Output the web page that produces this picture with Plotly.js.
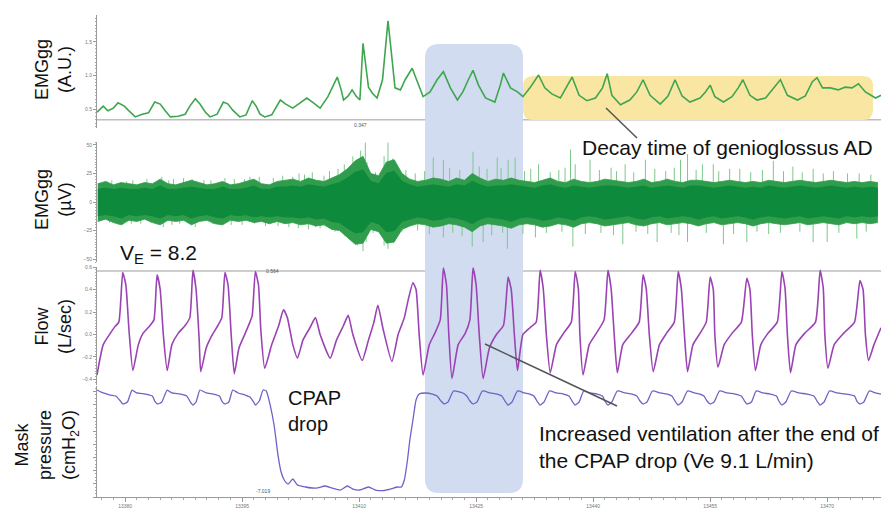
<!DOCTYPE html>
<html><head><meta charset="utf-8">
<script src="https://cdn.plot.ly/plotly-3.0.1.min.js"></script>
<style>html,body{margin:0;padding:0;background:#fff}</style>
</head><body>
<div id="chart" style="width:881px;height:512px"></div>
<script>
// ---------- DATA ----------
// Panel 1: EMGgg moving-time average (A.U.)
const emgAUTime = [13376.4,13377.2,13377.8,13378.5,13379.1,13379.9,13380.4,13381.3,13382.2,13383.0,13383.8,13384.5,13385.1,13385.8,13386.8,13387.7,13388.3,13389.0,13389.6,13390.3,13390.9,13391.8,13392.6,13393.2,13393.8,13394.7,13395.5,13396.3,13396.8,13397.3,13397.9,13398.8,13399.9,13400.6,13401.5,13402.4,13403.3,13404.1,13405.0,13406.0,13406.7,13407.2,13407.7,13408.0,13408.6,13409.1,13409.6,13410.1,13410.5,13410.9,13411.2,13411.7,13412.3,13413.0,13413.5,13413.7,13414.1,13414.6,13415.3,13415.9,13416.8,13417.4,13418.2,13419.1,13420.0,13420.8,13421.7,13422.6,13423.3,13424.0,13424.6,13425.3,13426.2,13427.4,13428.1,13428.5,13429.4,13430.3,13431.0,13431.9,13433.0,13433.8,13434.7,13435.8,13436.5,13437.3,13438.2,13439.2,13440.3,13441.2,13441.8,13442.4,13443.5,13444.7,13445.6,13446.4,13447.3,13448.6,13449.6,13450.5,13451.4,13452.4,13453.7,13454.4,13455.0,13455.6,13456.7,13457.8,13458.6,13459.2,13460.1,13461.0,13462.1,13463.0,13464.0,13464.9,13466.2,13467.2,13468.1,13468.7,13469.4,13470.4,13471.4,13472.3,13473.2,13474.0,13474.9,13476.2,13476.9];
const emgAUValue = [0.46,0.55,0.48,0.52,0.60,0.55,0.49,0.39,0.43,0.45,0.61,0.58,0.49,0.39,0.40,0.43,0.55,0.66,0.58,0.46,0.39,0.43,0.61,0.58,0.49,0.39,0.42,0.63,0.55,0.43,0.39,0.42,0.64,0.58,0.52,0.60,0.67,0.60,0.52,0.69,0.86,0.98,0.79,0.64,0.70,0.79,0.70,0.64,1.48,1.08,0.83,0.74,0.67,0.94,1.53,1.81,1.38,0.82,0.79,0.94,1.11,0.94,0.69,0.76,0.94,1.06,0.82,0.64,0.76,0.94,1.08,0.86,0.67,0.61,0.86,1.04,0.82,0.76,0.69,0.82,1.01,0.82,0.73,0.67,0.82,0.98,0.71,0.63,0.67,0.82,1.03,0.71,0.57,0.64,0.76,0.94,0.71,0.58,0.70,0.94,0.70,0.61,0.67,0.76,0.86,0.69,0.61,0.69,0.82,0.94,0.71,0.64,0.67,0.79,0.94,0.71,0.64,0.70,0.91,0.97,0.82,0.82,0.79,0.83,0.82,0.88,0.76,0.67,0.71];
const emgAUBaseline = 0.347;

// Panel 2: raw EMGgg (µV) — dense core, lighter fringe, isolated spikes
const rawTime = [13376.5,13377.5,13378.5,13379.5,13380.5,13381.5,13382.5,13383.5,13384.5,13385.5,13386.5,13387.5,13388.5,13389.5,13390.5,13391.5,13392.5,13393.5,13394.5,13395.5,13396.5,13397.5,13398.5,13399.5,13400.5,13401.5,13402.5,13403.5,13404.5,13405.5,13406.5,13407.5,13408.5,13409.5,13410.5,13411.5,13412.5,13413.5,13414.5,13415.5,13416.5,13417.5,13418.5,13419.5,13420.5,13421.5,13422.5,13423.5,13424.5,13425.5,13426.5,13427.5,13428.5,13429.5,13430.5,13431.5,13432.5,13433.5,13434.5,13435.5,13436.5,13437.5,13438.5,13439.5,13440.5,13441.5,13442.5,13443.5,13444.5,13445.5,13446.5,13447.5,13448.5,13449.5,13450.5,13451.5,13452.5,13453.5,13454.5,13455.5,13456.5,13457.5,13458.5,13459.5,13460.5,13461.5,13462.5,13463.5,13464.5,13465.5,13466.5,13467.5,13468.5,13469.5,13470.5,13471.5,13472.5,13473.5,13474.5,13475.5,13476.5];
const rawUpper = [11,12,11,12,11,11,12,11,14,11,11,12,13,12,11,11,13,11,11,12,14,11,11,13,13,14,13,15,14,13,15,17,21,26,28,18,16,25,27,18,15,13,14,15,14,13,15,14,18,15,13,14,14,15,14,13,12,14,15,13,12,14,13,12,13,14,14,13,12,13,14,12,13,14,13,12,14,14,13,12,13,14,13,12,13,12,14,13,12,13,14,13,12,13,14,13,12,13,12,13,12];
const rawLower = [-12,-11,-12,-14,-11,-12,-11,-12,-14,-11,-12,-11,-14,-12,-11,-13,-14,-11,-12,-11,-13,-12,-13,-12,-13,-13,-14,-13,-15,-14,-17,-18,-23,-27,-26,-17,-19,-26,-25,-17,-15,-13,-14,-16,-15,-13,-14,-16,-19,-15,-13,-14,-15,-17,-14,-13,-14,-16,-15,-13,-14,-16,-13,-12,-13,-15,-14,-13,-12,-14,-15,-13,-12,-14,-13,-12,-13,-15,-13,-12,-14,-13,-12,-13,-15,-13,-12,-13,-14,-13,-12,-14,-13,-12,-13,-14,-12,-13,-12,-13,-12];
const rawFringeUpper = [16,18,15,17,16,15,17,16,20,16,15,17,19,17,15,16,18,15,16,18,20,16,15,18,19,20,18,21,19,18,21,24,29,36,40,25,23,35,37,25,20,18,19,21,20,18,21,19,25,21,18,20,19,21,19,18,17,19,21,18,17,20,18,17,18,20,19,18,17,18,20,17,18,20,18,17,19,19,18,17,18,19,18,17,18,17,19,18,17,18,19,18,17,18,19,18,17,18,17,18,17];
const rawFringeLower = [-17,-15,-18,-20,-16,-17,-15,-18,-20,-16,-17,-16,-20,-17,-16,-19,-20,-16,-17,-16,-18,-17,-19,-17,-19,-18,-20,-19,-21,-20,-24,-25,-31,-37,-36,-24,-26,-36,-35,-24,-21,-19,-20,-22,-21,-19,-20,-22,-26,-21,-19,-20,-21,-23,-20,-19,-20,-22,-21,-19,-20,-22,-19,-18,-19,-21,-20,-19,-18,-20,-21,-19,-18,-20,-19,-18,-19,-21,-19,-18,-20,-19,-18,-19,-21,-19,-18,-19,-20,-19,-18,-20,-19,-18,-19,-20,-18,-19,-18,-19,-18];
const spikeTime = [13377.7,13378.3,13380.2,13381.0,13382.8,13384.7,13385.6,13386.2,13387.5,13388.6,13390.1,13391.0,13392.8,13394.0,13395.3,13396.0,13397.2,13399.0,13400.2,13401.5,13402.3,13403.0,13404.0,13405.5,13406.2,13407.3,13408.1,13409.2,13410.2,13410.8,13411.0,13412.1,13413.2,13413.7,13414.3,13416.0,13417.2,13418.4,13419.5,13420.8,13421.6,13422.9,13424.6,13425.4,13426.4,13427.7,13428.2,13429.1,13430.0,13431.2,13432.0,13433.0,13434.5,13435.6,13436.4,13437.1,13437.7,13439.6,13440.8,13442.3,13443.0,13444.1,13445.2,13446.7,13447.9,13449.3,13450.4,13451.2,13452.1,13453.2,13454.0,13455.4,13456.1,13457.5,13458.8,13460.2,13461.7,13463.1,13464.4,13465.6,13466.8,13468.2,13469.5,13470.8,13472.6,13474.1,13475.6,
  13378.0,13379.7,13380.8,13382.0,13383.3,13384.9,13386.0,13387.0,13388.0,13389.0,13391.2,13392.2,13393.6,13395.0,13396.6,13398.0,13399.6,13401.0,13402.2,13403.5,13404.4,13405.0,13406.9,13408.2,13409.8,13410.5,13410.9,13411.8,13413.2,13413.7,13414.4,13415.5,13417.5,13419.0,13420.8,13422.0,13423.2,13424.5,13425.9,13427.0,13428.4,13429.0,13431.0,13432.6,13434.0,13436.0,13437.4,13439.0,13441.0,13442.6,13443.8,13445.5,13447.0,13448.2,13450.0,13451.0,13452.1,13454.5,13456.7,13458.0,13459.7,13461.0,13462.5,13464.0,13466.5,13468.2,13470.0,13471.5,13473.8,13475.0];
const spikeValue = [18,19,18,19,20,22,19,20,21,20,19,19,21,20,20,22,22,21,23,22,25,24,26,23,27,29,33,40,45,52,35,26,40,52,38,28,25,27,39,37,30,28,44,31,29,39,30,37,39,27,29,33,26,28,30,46,33,37,28,30,27,33,26,37,29,27,30,37,42,28,33,33,27,29,29,26,28,36,27,31,26,29,25,27,25,25,24,
  -18,-20,-19,-19,-18,-22,-20,-19,-18,-22,-19,-20,-20,-20,-19,-21,-21,-22,-23,-24,-22,-23,-26,-30,-38,-43,-35,-27,-38,-41,-36,-26,-25,-28,-31,-27,-30,-39,-35,-29,-27,-41,-28,-31,-27,-26,-39,-28,-27,-29,-37,-26,-28,-35,-27,-29,-35,-27,-37,-28,-35,-26,-28,-27,-26,-35,-35,-27,-32,-26];

// Panel 3: Flow (L/sec)
const flowTime = [13376.4,13377.2,13378.1,13378.7,13379.2,13379.7,13380.1,13380.5,13381.0,13381.7,13382.3,13383.2,13383.7,13384.1,13384.5,13384.9,13385.4,13386.0,13386.8,13387.7,13388.3,13388.7,13389.1,13389.5,13389.7,13390.4,13391.2,13391.9,13392.4,13392.8,13393.2,13393.6,13394.0,13394.6,13395.4,13396.0,13396.3,13396.7,13397.1,13397.4,13397.9,
  13398.8,13399.7,13400.3,13400.8,13401.5,13402.1,13402.8,13403.7,13404.4,13405.0,13406.3,13407.1,13408.0,13408.6,13409.2,13410.4,13411.2,13411.9,13412.4,13413.1,13414.2,13415.0,13415.8,13416.3,13416.9,13417.3,13417.7,13418.2,
  13419.0,13419.7,13420.4,13420.8,13421.2,13421.5,13421.9,13422.7,13423.6,13424.2,13424.6,13425.0,13425.4,13425.9,13426.7,13427.6,13428.5,13428.8,13429.1,13429.5,13429.9,13430.3,13431.0,13431.9,13432.7,13433.2,13433.6,13434.0,13434.5,13435.3,13436.2,13437.2,13437.7,13438.1,13438.3,13438.7,13439.5,13440.4,13441.4,13441.9,13442.3,13442.7,13443.1,13443.8,13444.9,13445.9,13446.4,13446.8,13447.2,13447.7,13448.5,13449.4,13450.4,13450.9,13451.3,13451.7,13452.1,13452.8,13453.7,13454.5,13455.0,13455.4,13455.6,13456.0,13456.8,13457.8,13459.0,13459.7,13460.1,13460.4,13460.8,13461.5,13462.4,13463.6,13464.2,13464.6,13464.9,13465.3,13466.0,13467.1,13468.5,13469.1,13469.5,13469.7,13470.1,13470.9,13472.1,13473.5,13474.2,13474.6,13474.9,13475.3,13476.0,13476.9];
const flowValue = [-0.36,-0.09,0.01,0.07,0.11,0.55,0.44,0.04,-0.32,-0.09,0.01,0.08,0.13,0.53,0.40,0.00,-0.32,-0.09,0.01,0.08,0.15,0.57,0.40,-0.05,-0.33,-0.12,0.00,0.08,0.15,0.55,0.44,0.00,-0.35,-0.12,0.01,0.11,0.17,0.56,0.44,0.04,-0.30,
  -0.09,0.08,0.22,0.15,-0.09,-0.21,-0.05,0.06,0.15,0.00,-0.21,-0.05,0.08,0.17,0.00,-0.23,-0.05,0.11,0.26,0.04,-0.24,0.00,0.15,0.31,0.46,0.40,0.00,-0.36,
  -0.09,0.01,0.13,0.59,0.44,0.00,-0.39,-0.09,0.01,0.13,0.59,0.44,0.00,-0.39,-0.12,0.00,0.08,0.26,0.51,0.40,0.00,-0.32,0.00,0.06,0.11,0.57,0.41,0.00,-0.34,-0.09,0.01,0.11,0.56,0.41,0.00,-0.36,-0.09,0.01,0.13,0.57,0.41,0.00,-0.34,-0.09,0.01,0.11,0.53,0.41,0.00,-0.33,-0.09,0.01,0.11,0.56,0.41,0.00,-0.33,-0.09,0.01,0.11,0.51,0.40,0.00,-0.29,-0.09,0.01,0.11,0.50,0.40,0.00,-0.32,-0.09,0.01,0.11,0.56,0.41,0.00,-0.34,-0.09,0.01,0.11,0.57,0.41,0.00,-0.30,-0.09,0.01,0.11,0.48,0.40,0.00,-0.23,-0.09,0.06];
const flowMarker = 0.564;

// Panel 4: Mask pressure (cmH2O)
const pressTime = [13376.4,13377.2,13378.1,13378.8,13379.4,13379.7,13380.3,13380.9,13381.5,13382.6,13383.5,13383.8,13384.2,13384.7,13385.4,13386.0,13387.1,13387.9,13388.3,13388.7,13389.1,13389.6,13390.4,13391.3,13392.1,13392.4,13392.8,13393.3,13393.8,13394.5,13395.4,13396.0,13396.4,13396.7,13397.2,13397.7,13398.1,
  13398.6,13399.1,13399.6,13400.0,13400.4,13400.9,13401.5,13402.1,13403.1,13404.0,13404.7,13405.6,13406.5,13407.6,13408.5,13409.2,13410.1,13411.2,13412.1,13413.1,13414.0,13414.9,13415.4,13415.8,13416.2,13416.5,13416.9,13417.3,13417.7,13418.5,13419.4,13420.0,13420.5,13420.9,13421.4,13422.1,
  13423.3,13423.8,13424.2,13424.6,13425.1,13425.8,13426.8,13427.7,13428.3,13428.7,13429.1,13429.6,13430.3,13431.2,13431.9,13432.4,13432.8,13433.2,13433.7,13434.4,13435.3,13436.2,13436.9,13437.3,13437.7,13438.2,13438.8,13439.6,13440.5,13441.2,13441.5,13441.9,13442.4,13443.1,13444.1,13445.0,13445.6,13446.0,13446.4,13446.9,13447.6,13448.6,13449.5,13450.1,13450.5,13450.9,13451.4,13452.1,13453.0,13453.7,13454.2,13454.6,13455.0,13455.5,13456.2,13457.2,13458.2,13459.0,13459.4,13459.7,13460.3,13460.9,13461.8,13462.7,13463.5,13463.8,13464.2,13464.7,13465.4,13466.4,13467.4,13468.3,13468.7,13469.1,13469.6,13470.3,13471.3,13472.4,13473.5,13473.8,13474.2,13474.7,13475.4,13476.2,13476.9];
const pressValue = [8.24,7.79,7.48,7.33,6.57,6.12,6.42,8.24,7.79,7.63,7.33,6.57,6.12,6.42,8.24,7.79,7.63,7.33,6.57,5.96,6.42,8.24,7.79,7.63,7.33,6.57,6.12,6.42,8.24,7.79,7.48,7.18,6.57,5.96,6.57,8.24,8.09,
  5.96,2.93,-1.63,-4.21,-5.42,-6.03,-5.27,-6.18,-6.48,-6.63,-6.63,-6.33,-6.63,-6.94,-6.33,-6.79,-6.94,-6.48,-6.94,-7.02,-6.79,-6.48,-6.48,-5.42,-2.38,0.65,3.69,6.72,7.63,7.79,7.63,7.33,6.57,6.12,6.42,8.09,
  7.79,7.33,6.57,6.12,6.42,8.09,7.79,7.63,7.33,6.57,5.96,6.42,8.09,7.79,7.63,7.33,6.57,5.96,6.42,8.09,7.79,7.63,7.33,6.57,5.96,6.42,8.09,7.79,7.63,7.33,6.57,5.96,6.42,8.09,7.79,7.63,7.33,6.57,6.12,6.42,8.09,7.79,7.63,7.33,6.57,5.96,6.42,8.09,7.79,7.63,7.33,6.57,6.12,6.42,8.09,7.79,7.63,7.33,6.57,6.12,6.42,8.09,7.79,7.63,7.33,6.57,5.96,6.42,8.09,7.79,7.63,7.33,6.57,5.96,6.42,8.09,7.79,7.63,7.33,6.57,6.12,6.42,8.09,7.79,7.63];
const pressMin = -7.019;

// ---------- LAYOUT HELPERS ----------
const W = 881, H = 512, ML = 97, MB = 15;
const PW = W - ML, PH = H - MB;
const px = x => (x - ML) / PW;
const py = y => (PH - y) / PH;
function rrect(x0, y0, x1, y1, r) {
  const X = px, Y = py;
  return `M${X(x0+r)},${Y(y0)} L${X(x1-r)},${Y(y0)} Q${X(x1)},${Y(y0)} ${X(x1)},${Y(y0+r)} ` +
         `L${X(x1)},${Y(y1-r)} Q${X(x1)},${Y(y1)} ${X(x1-r)},${Y(y1)} L${X(x0+r)},${Y(y1)} ` +
         `Q${X(x0)},${Y(y1)} ${X(x0)},${Y(y1-r)} L${X(x0)},${Y(y0+r)} Q${X(x0)},${Y(y0)} ${X(x0+r)},${Y(y0)} Z`;
}

// spike segments built from spike arrays
const spX = [], spY = [];
spikeTime.forEach((t, i) => { spX.push(t, t, null); spY.push(0, spikeValue[i], null); });

const traces = [
  {x: emgAUTime, y: emgAUValue, yaxis: 'y', mode: 'lines', line: {color: '#3da64e', width: 1.6}},
  {x: spX, y: spY, yaxis: 'y2', mode: 'lines', line: {color: '#7cc88a', width: 1}},
  {x: rawTime, y: rawFringeUpper, yaxis: 'y2', mode: 'lines', line: {color: '#2f9d4b', width: 0.8}},
  {x: rawTime, y: rawFringeLower, yaxis: 'y2', mode: 'lines', line: {color: '#2f9d4b', width: 0.8}, fill: 'tonexty', fillcolor: '#2f9d4b'},
  {x: rawTime, y: rawUpper, yaxis: 'y2', mode: 'lines', line: {color: '#0e8a3c', width: 1}},
  {x: rawTime, y: rawLower, yaxis: 'y2', mode: 'lines', line: {color: '#0e8a3c', width: 1}, fill: 'tonexty', fillcolor: '#0e8a3c'},
  {x: flowTime, y: flowValue, yaxis: 'y3', mode: 'lines', line: {color: '#9a43b4', width: 1.6, shape: 'spline', smoothing: 0.5}},
  {x: pressTime, y: pressValue, yaxis: 'y4', mode: 'lines', line: {color: '#6b63c9', width: 1.3, shape: 'spline', smoothing: 0.5}}
];

const FONT = 'Liberation Sans, Arial, Helvetica, sans-serif';
const tickFont = {family: FONT, size: 5, color: '#777'};
const yBase = {
  anchor: 'x', showline: true, linecolor: '#999', linewidth: 1, ticks: 'outside', ticklen: 3,
  tickcolor: '#999', tickfont: tickFont, showgrid: false, zeroline: false, fixedrange: true
};
const minorY = d => ({tickmode: 'linear', tick0: 0, dtick: d, ticklen: 1.5, tickcolor: '#aaa', ticks: 'outside', showgrid: false});

const layout = {
  width: W, height: H,
  margin: {l: ML, r: 0, t: 0, b: MB, pad: 0},
  paper_bgcolor: '#ffffff', plot_bgcolor: 'rgba(0,0,0,0)',
  showlegend: false, hovermode: false,
  font: {family: FONT, color: '#111'},
  xaxis: {
    domain: [0, 1], range: [13376.4, 13476.9], anchor: 'y4',
    showline: true, linecolor: '#999', ticks: 'outside', ticklen: 4, tickcolor: '#999',
    tickmode: 'linear', tick0: 13380, dtick: 15, tickformat: 'd', tickfont: tickFont, showgrid: false, zeroline: false,
    minor: {tickmode: 'linear', tick0: 13380, dtick: 1.5, ticklen: 2, tickcolor: '#aaa', ticks: 'outside', showgrid: false}
  },
  yaxis: Object.assign({}, yBase, {
    domain: [py(128), py(15)], range: [0.226, 1.898], tickmode: 'linear', tick0: 0.5, dtick: 0.5, tickformat: '.1f',
    minor: minorY(0.05)
  }),
  yaxis2: Object.assign({}, yBase, {
    domain: [py(262), py(142)], range: [-52.5, 52.5], tickmode: 'linear', tick0: 0, dtick: 25,
    minor: minorY(2.5)
  }),
  yaxis3: Object.assign({}, yBase, {
    domain: [py(385), py(267)], range: [-0.449, 0.6], tickmode: 'linear', tick0: 0, dtick: 0.2, tickformat: '.1f',
    minor: minorY(0.025)
  }),
  yaxis4: Object.assign({}, yBase, {
    domain: [0, py(386)], range: [-8, 8.85], tickmode: 'linear', tick0: 0, dtick: 2, showticklabels: false,
    minor: minorY(0.5)
  }),
  shapes: [
    {type: 'line', layer: 'below', xref: 'paper', x0: 0, x1: 1, yref: 'y', y0: emgAUBaseline, y1: emgAUBaseline, line: {color: '#bdbdbd', width: 1.5}},
    {type: 'line', layer: 'below', xref: 'paper', x0: 0, x1: 1, yref: 'y3', y0: flowMarker, y1: flowMarker, line: {color: '#bdbdbd', width: 1.5}},
    {type: 'path', layer: 'below', xref: 'paper', yref: 'paper', path: rrect(425, 44, 523, 493, 14), fillcolor: '#d2dcf0', line: {width: 0}},
    {type: 'path', layer: 'below', xref: 'paper', yref: 'paper', path: rrect(523, 76, 873, 120, 10), fillcolor: '#fae6a3', line: {width: 0}},
    {type: 'line', layer: 'above', xref: 'paper', yref: 'paper', x0: px(606), y0: py(108), x1: px(637), y1: py(138), line: {color: '#555', width: 1.5}},
    {type: 'line', layer: 'above', xref: 'paper', yref: 'paper', x0: px(485), y0: py(344), x1: px(617), y1: py(406), line: {color: '#555', width: 1.5}}
  ],
  annotations: [
    {xref: 'paper', yref: 'paper', x: px(53), y: py(70), text: 'EMGgg<br>(A.U.)', textangle: -90, showarrow: false, font: {size: 18}, xanchor: 'center', yanchor: 'middle'},
    {xref: 'paper', yref: 'paper', x: px(53), y: py(200), text: 'EMGgg<br>(µV)', textangle: -90, showarrow: false, font: {size: 18}, xanchor: 'center', yanchor: 'middle'},
    {xref: 'paper', yref: 'paper', x: px(53), y: py(327), text: 'Flow<br>(L/sec)', textangle: -90, showarrow: false, font: {size: 18}, xanchor: 'center', yanchor: 'middle'},
    {xref: 'paper', yref: 'paper', x: px(47), y: py(445), text: 'Mask<br>pressure<br>(cmH<sub>2</sub>O)', textangle: -90, showarrow: false, font: {size: 18}, xanchor: 'center', yanchor: 'middle'},
    {xref: 'paper', yref: 'paper', x: px(727), y: py(148), text: 'Decay time of genioglossus AD', showarrow: false, font: {size: 21}, xanchor: 'center', yanchor: 'middle'},
    {xref: 'paper', yref: 'paper', x: px(158), y: py(254), text: 'V<sub>E</sub> = 8.2', showarrow: false, font: {size: 21}, xanchor: 'center', yanchor: 'middle'},
    {xref: 'paper', yref: 'paper', x: px(286), y: py(411), text: 'CPAP<br>drop', showarrow: false, font: {size: 20}, xanchor: 'left', yanchor: 'middle', align: 'left'},
    {xref: 'paper', yref: 'paper', x: px(537), y: py(447), text: 'Increased ventilation after the end of<br>the CPAP drop (Ve 9.1 L/min)', showarrow: false, font: {size: 21}, xanchor: 'left', yanchor: 'middle', align: 'left'},
    {xref: 'paper', yref: 'y', x: px(352), y: emgAUBaseline, text: String(emgAUBaseline), showarrow: false, font: {size: 5, color: '#555'}, yanchor: 'top'},
    {xref: 'paper', yref: 'y3', x: px(264), y: flowMarker, text: String(flowMarker), showarrow: false, font: {size: 5, color: '#555'}, yanchor: 'middle', xanchor: 'left'},
    {xref: 'x', yref: 'y4', x: 13397.7, y: pressMin, text: String(pressMin), showarrow: false, font: {size: 5, color: '#555'}, yanchor: 'middle'}
  ]
};

Plotly.newPlot('chart', traces, layout, {staticPlot: true, displayModeBar: false});
</script>
</body></html>
